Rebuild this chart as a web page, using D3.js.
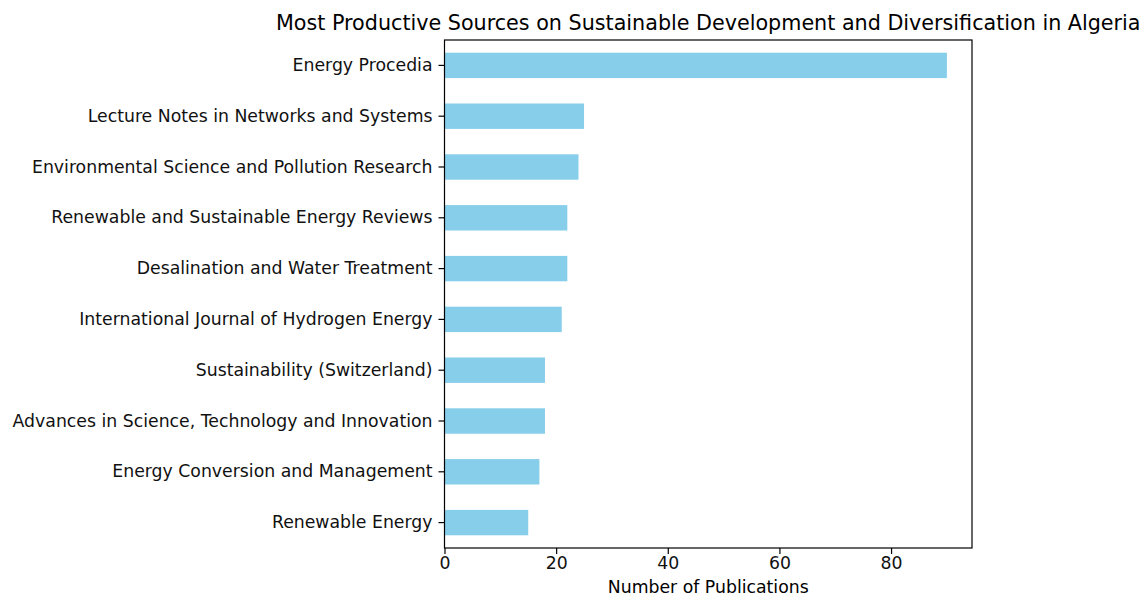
<!DOCTYPE html>
<html>
<head>
<meta charset="utf-8">
<script src="https://cdn.jsdelivr.net/npm/d3@7"></script>
<style>
  body { margin: 0; background: #fff; }
  text { font-family: "DejaVu Sans", sans-serif; fill: #000; }
</style>
</head>
<body>
<div id="chart"></div>
<script>
// sources, top to bottom
var sources = [
    "Energy Procedia",
    "Lecture Notes in Networks and Systems",
    "Environmental Science and Pollution Research",
    "Renewable and Sustainable Energy Reviews",
    "Desalination and Water Treatment",
    "International Journal of Hydrogen Energy",
    "Sustainability (Switzerland)",
    "Advances in Science, Technology and Innovation",
    "Energy Conversion and Management",
    "Renewable Energy"
];
var publications = [90, 25, 24, 22, 22, 21, 18, 18, 17, 15];
var xTicks = [0, 20, 40, 60, 80];

var width = 1146, height = 599;
var margin = { top: 40, right: 174, bottom: 51, left: 444.5 };
var w = width - margin.left - margin.right;
var h = height - margin.top - margin.bottom;

var svg = d3.select("#chart").append("svg")
    .attr("width", width)
    .attr("height", height);

var g = svg.append("g")
    .attr("transform", "translate(" + margin.left + "," + margin.top + ")");

// matplotlib style 5% margin on the x axis
var xMax = d3.max(publications) * 1.05;
var x = d3.scaleLinear().domain([0, xMax]).range([0, w]);

// band of width 1 per category, bar height 0.5
var y = d3.scaleBand().domain(sources).range([0, h]).paddingInner(0).paddingOuter(0);
var barH = y.bandwidth() * 0.5;

g.selectAll("rect.bar")
    .data(sources)
    .enter().append("rect")
    .attr("class", "bar")
    .attr("x", 0)
    .attr("y", function(d) { return y(d) + (y.bandwidth() - barH) / 2; })
    .attr("width", function(d, i) { return x(publications[i]); })
    .attr("height", barH)
    .style("fill", "#87ceeb");

// axes
var xAxis = d3.axisBottom(x).tickValues(xTicks).tickSize(6).tickPadding(3);
var yAxis = d3.axisLeft(y).tickSize(6).tickPadding(6);

var gx = g.append("g")
    .attr("transform", "translate(0," + h + ")")
    .call(xAxis);
var gy = g.append("g").call(yAxis);

[gx, gy].forEach(function(a) {
    a.select(".domain").remove();
    a.selectAll("line").attr("stroke", "#000").attr("stroke-width", 1.2);
    a.selectAll("text").style("font-size", "17.3px").style("font-family", "DejaVu Sans, sans-serif").style("fill", "#111");
});

// frame
g.append("rect")
    .attr("width", w)
    .attr("height", h)
    .style("fill", "none")
    .style("stroke", "#000")
    .style("stroke-width", 1.2);

// title and label
svg.append("text")
    .attr("x", margin.left + w / 2)
    .attr("y", 30)
    .attr("text-anchor", "middle")
    .style("font-size", "20.7px")
    .text("Most Productive Sources on Sustainable Development and Diversification in Algeria");

svg.append("text")
    .attr("x", margin.left + w / 2)
    .attr("y", margin.top + h + 45)
    .attr("text-anchor", "middle")
    .style("font-size", "17.3px")
    .text("Number of Publications");
</script>
</body>
</html>
